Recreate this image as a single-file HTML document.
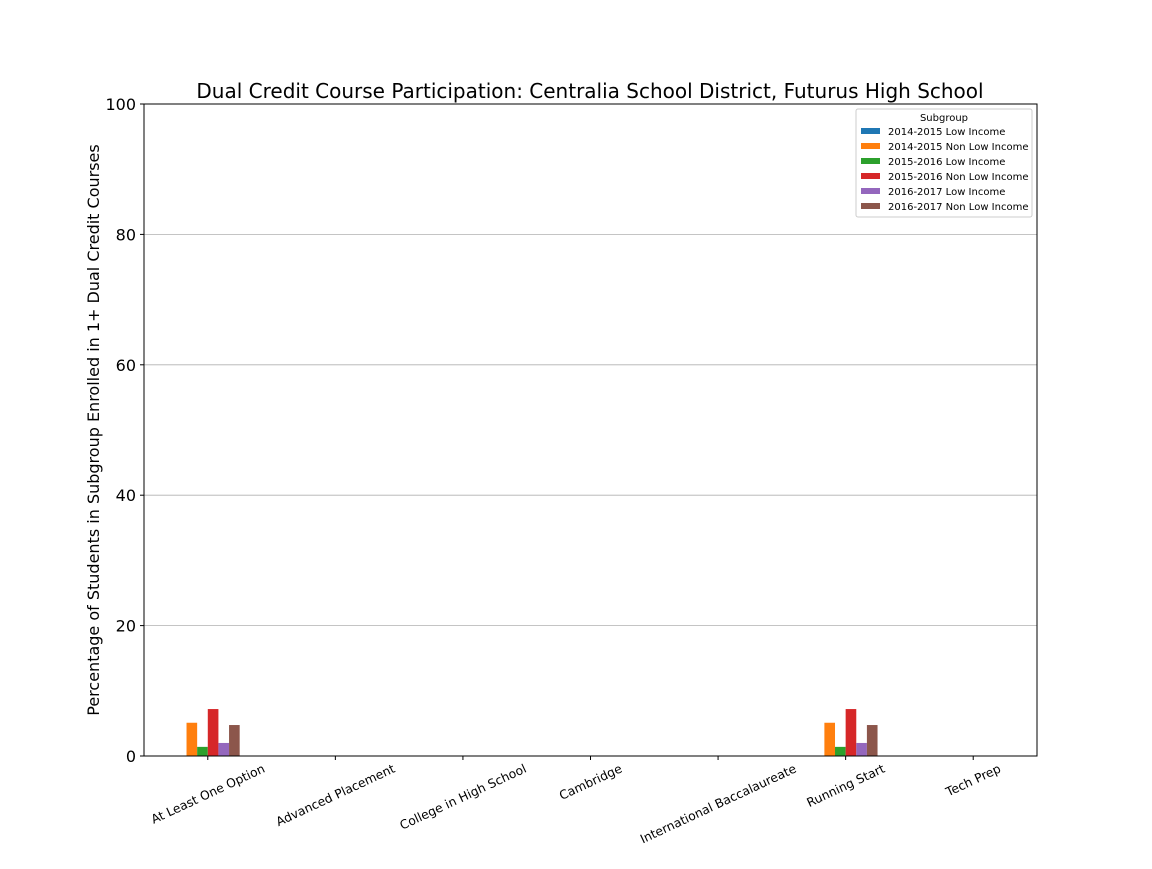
<!DOCTYPE html>
<html><head><meta charset="utf-8"><style>
body{margin:0;background:#fff;font-family:"Liberation Sans","DejaVu Sans",sans-serif;}
svg text{font-family:"DejaVu Sans","Liberation Sans",sans-serif;}
</style></head><body>
<svg id="chart" width="1152" height="864" xmlns="http://www.w3.org/2000/svg">
<text x="590" y="98" font-size="20" text-anchor="middle">Dual Credit Course Participation: Centralia School District, Futurus High School</text>
<text transform="translate(99,430) rotate(-90)" font-size="16" text-anchor="middle">Percentage of Students in Subgroup Enrolled in 1+ Dual Credit Courses</text>
<g id="grid"></g><g id="bars"></g><g id="axes"></g><g id="legend"></g>
</svg>
<script>
const categories=["At Least One Option","Advanced Placement","College in High School","Cambridge","International Baccalaureate","Running Start","Tech Prep"];
const seriesNames=["2014-2015 Low Income","2014-2015 Non Low Income","2015-2016 Low Income","2015-2016 Non Low Income","2016-2017 Low Income","2016-2017 Non Low Income"];
const s1=[0,0,0,0,0,0,0];
const s2=[5.1,0,0,0,0,5.1,0];
const s3=[1.4,0,0,0,0,1.4,0];
const s4=[7.2,0,0,0,0,7.2,0];
const s5=[2.0,0,0,0,0,2.0,0];
const s6=[4.75,0,0,0,0,4.75,0];
const yTicks=[0,20,40,60,80,100];
const colors=["#1f77b4","#ff7f0e","#2ca02c","#d62728","#9467bd","#8c564b"];
const series=[s1,s2,s3,s4,s5,s6];
const L=144,R=1037,T=104,B=756,NS="http://www.w3.org/2000/svg";
const step=(R-L)/categories.length;
const x=i=>L+step*(i+0.5);
const y=v=>B-(v/100)*(B-T);
function mk(tag,attrs,parent,txt){const e=document.createElementNS(NS,tag);for(const k in attrs)e.setAttribute(k,attrs[k]);if(txt!==undefined)e.textContent=txt;document.getElementById(parent).appendChild(e);return e;}
yTicks.forEach(t=>{
  if(t>0&&t<100){const g=mk('line',{x1:L,x2:R,y1:y(t),y2:y(t),stroke:'#b0b0b0','stroke-width':0.8},'grid');
  
  }
  mk('line',{x1:L-4,x2:L,y1:y(t),y2:y(t),stroke:'#000'},'axes');
  const tl=mk('text',{x:L-8,y:y(t)+6,'font-size':16,'text-anchor':'end'},'axes',t);
  
  
});
const bw=step*0.5/series.length;
series.forEach((s,j)=>{s.forEach((v,i)=>{
  const bx=x(i)+(j-series.length/2)*bw;
  const r=mk('rect',{x:bx,y:y(v),width:bw,height:B-y(v),fill:colors[j]},'bars');
  
  
});});
const fr=mk('rect',{x:L,y:T,width:R-L,height:B-T,fill:'none',stroke:'#000','stroke-width':1},'axes');


const ang=25*Math.PI/180;
categories.forEach((c,i)=>{
  mk('line',{x1:x(i),x2:x(i),y1:B,y2:B+4,stroke:'#000'},'axes');
  const t=mk('text',{'font-size':12.3,'text-anchor':'middle'},'axes',c);
  
  
  const w=t.getComputedTextLength();
  const h=12.3;
  const bh=w*Math.sin(ang)+h*Math.cos(ang);
  const cy=B+6+bh/2;
  t.setAttribute('transform',`translate(${x(i)},${cy}) rotate(-25) translate(0,${h*0.36})`);
});
const lb=mk('rect',{x:856,y:109,width:176,height:108,fill:'#fff',stroke:'#ccc',rx:2},'legend');


mk('text',{x:944,y:121,'font-size':10,'text-anchor':'middle'},'legend','Subgroup');
seriesNames.forEach((n,j)=>{
  const yy=128+j*15;
  const sw=mk('rect',{x:861,y:yy,width:19,height:6,fill:colors[j]},'legend');
  
  
  const t=mk('text',{x:888,y:yy+7,'font-size':10},'legend',n);
  
  
});
</script>
</body></html>
